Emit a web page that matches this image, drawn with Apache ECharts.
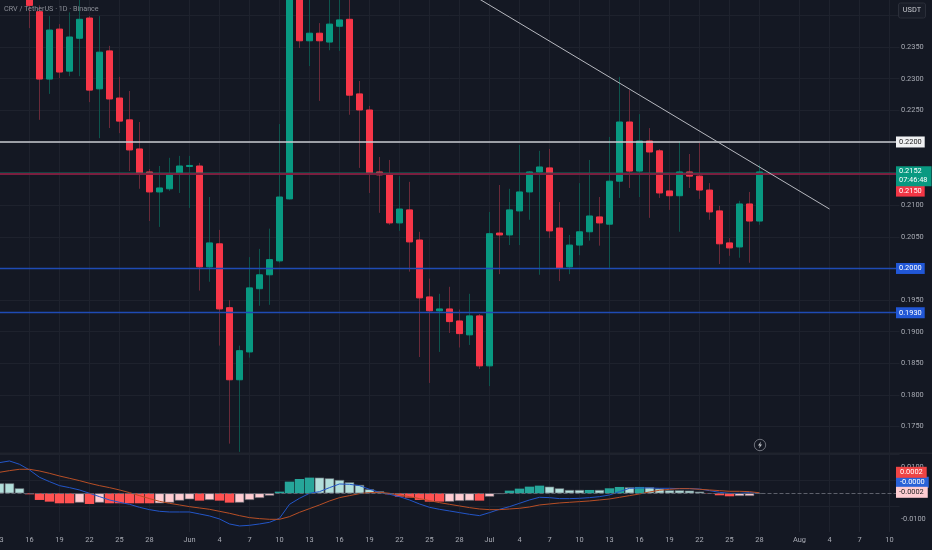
<!DOCTYPE html>
<html>
<head>
<meta charset="utf-8">
<style>html,body{margin:0;padding:0;background:#141823}#c{width:932px;height:550px}</style>
<script src="https://cdn.jsdelivr.net/npm/echarts@6/dist/echarts.min.js"></script>
</head>
<body>
<div id="c"></div>
<script>
const categories = [];
[['May',13,31],['Jun',1,30],['Jul',1,31],['Aug',1,11]].forEach(function(m){
  for (let d = m[1]; d <= m[2]; d++) categories.push(m[0] + ' ' + d);
});
const tickLabels = {
  'May 13':'13','May 16':'16','May 19':'19','May 22':'22','May 25':'25','May 28':'28',
  'Jun 1':'Jun','Jun 4':'4','Jun 7':'7','Jun 10':'10','Jun 13':'13','Jun 16':'16','Jun 19':'19','Jun 22':'22','Jun 25':'25','Jun 28':'28',
  'Jul 1':'Jul','Jul 4':'4','Jul 7':'7','Jul 10':'10','Jul 13':'13','Jul 16':'16','Jul 19':'19','Jul 22':'22','Jul 25':'25','Jul 28':'28',
  'Aug 1':'Aug','Aug 4':'4','Aug 7':'7','Aug 10':'10'
};
const firstCandle = 'May 16';
const opens = [0.2456,0.2406,0.22995,0.23785,0.2312,0.2364,0.2396,0.2284,0.2344,0.22695,0.2235,0.2189,0.21526,0.2121,0.2126,0.21494,0.21613,0.2162,0.20025,0.2039,0.1938,0.1824,0.1868,0.1968,0.199,0.2012,0.211,0.2448,0.236,0.2372,0.2358,0.2383,0.2394,0.2276,0.22506,0.21526,0.2148,0.2072,0.20926,0.2045,0.1955,0.1933,0.1936,0.1917,0.1895,0.1925,0.1846,0.2056,0.2053,0.2091,0.2121,0.21526,0.2159,0.2064,0.20025,0.2037,0.2058,0.20815,0.207,0.2138,0.22316,0.2154,0.22016,0.2186,0.21226,0.2115,0.21526,0.2146,0.2124,0.2091,0.20404,0.2034,0.2102,0.2075];
const closes = [0.2416,0.22995,0.2377,0.23106,0.2366,0.2394,0.2282,0.2342,0.2268,0.2233,0.21874,0.2151,0.2121,0.21273,0.21494,0.2162,0.21629,0.20025,0.20404,0.1936,0.1824,0.187,0.19693,0.199,0.2014,0.2113,0.2456,0.236,0.2372,0.236,0.23864,0.2393,0.2274,0.22506,0.2151,0.2148,0.2072,0.2094,0.2042,0.19535,0.1933,0.1936,0.1916,0.1897,0.1925,0.1846,0.2055,0.2053,0.20926,0.2121,0.21526,0.21605,0.20594,0.2001,0.2037,0.2058,0.2083,0.2072,0.2138,0.22316,0.2154,0.22016,0.21842,0.21194,0.2115,0.21526,0.2146,0.2124,0.20894,0.2039,0.20325,0.2102,0.2075,0.21526];
const lows = [0.238,0.2235,0.2276,0.2301,0.2304,0.2304,0.2263,0.2206,0.2222,0.2214,0.2154,0.2126,0.2075,0.20657,0.21226,0.21194,0.20957,0.1965,0.1979,0.1878,0.1723,0.171,0.1859,0.1941,0.19425,0.2009,0.2109,0.23485,0.232,0.2265,0.2345,0.2344,0.2243,0.2159,0.21194,0.2088,0.2069,0.20594,0.1995,0.186,0.1819,0.1868,0.1898,0.1875,0.1879,0.1841,0.1814,0.1991,0.2037,0.2037,0.2077,0.199,0.2048,0.198,0.1991,0.2021,0.2044,0.2036,0.2001,0.21115,0.21273,0.2113,0.208,0.21115,0.20926,0.2058,0.21273,0.211,0.2077,0.2007,0.202,0.2017,0.2009,0.2069];
const highs = [0.2472,0.2416,0.2399,0.23864,0.2405,0.24275,0.2399,0.2399,0.2352,0.2303,0.22806,0.22316,0.21573,0.2162,0.2175,0.2178,0.2178,0.2167,0.2113,0.2061,0.195,0.1878,0.2018,0.2031,0.2063,0.22284,0.2464,0.2464,0.244,0.2388,0.244,0.244,0.2432,0.22964,0.2257,0.21763,0.21716,0.2146,0.2137,0.2058,0.1984,0.196,0.1971,0.1935,0.196,0.1928,0.20894,0.2132,0.2126,0.21953,0.2154,0.2186,0.2189,0.2105,0.2053,0.2135,0.21716,0.2113,0.2208,0.2303,0.2282,0.2244,0.2222,0.2189,0.21494,0.22016,0.2181,0.21984,0.2135,0.2099,0.2048,0.2107,0.2121,0.2164];
const histValues = [0.00386,0.00386,0.00193,-0.00039,-0.00257,-0.00322,-0.00386,-0.00386,-0.0036,-0.00412,-0.0036,-0.00386,-0.00386,-0.00386,-0.00386,-0.00386,-0.00386,-0.0036,-0.00283,-0.00232,-0.00283,-0.00257,-0.00283,-0.0036,-0.0036,-0.00257,-0.0018,-0.0009,0.00064,0.0045,0.00553,0.00605,0.00605,0.00579,0.00515,0.00425,0.00322,0.00154,0.00077,-0.00039,-0.00129,-0.00167,-0.00257,-0.00322,-0.00322,-0.00322,-0.00296,-0.00283,-0.00283,-0.00129,-0.00026,0.00103,0.0018,0.00257,0.00296,0.00257,0.00193,0.00129,0.00129,0.00129,0.00129,0.00193,0.00245,0.00232,0.00245,0.00232,0.0018,0.00116,0.00116,0.00103,0.00064,-0.00013,-0.00077,-0.00116,-0.00103,-0.00103,-0.00013];
const histKinds = 'LLLRRRRRPRPRRRRRPPPPRPRRPPPPTTTTLLLLLLLRRRRRRPPPRPPTTTTLLLLTLTTLTLLLLLLRRRPPP'.split('');
const histColors = {T:'#26a69a',L:'#b2dfdb',P:'#ffcdd2',R:'#ff5252'};
const macdLine = [0.01184,0.01248,0.0112,0.00901,0.00618,0.0045,0.00296,0.00219,0.00129,0,-0.00129,-0.00257,-0.00347,-0.00425,-0.00541,-0.00631,-0.00695,-0.00721,-0.00721,-0.00721,-0.00798,-0.00875,-0.00991,-0.01184,-0.01261,-0.01236,-0.01184,-0.0112,-0.00965,-0.00425,-0.00193,0,0.00064,0.00219,0.0036,0.00347,0.00296,0.00154,0.00039,-0.00039,-0.00129,-0.00257,-0.00412,-0.00541,-0.00618,-0.00682,-0.00746,-0.00811,-0.00862,-0.00746,-0.00618,-0.00515,-0.00386,-0.00257,-0.00154,-0.00167,-0.00206,-0.00206,-0.00193,-0.00167,-0.00129,-0.00064,0.00064,0.00193,0.00206,0.00206,0.00193,0.00193,0.0018,0.0018,0.00167,0.00103,0.00039,0,0,0.00026,-0.00002];
const signalLine = [0.00811,0.00875,0.00927,0.00927,0.00862,0.00772,0.00669,0.00579,0.00489,0.00386,0.00296,0.00219,0.00129,0.00026,-0.0009,-0.00206,-0.00309,-0.00386,-0.0045,-0.00515,-0.00566,-0.00618,-0.00695,-0.00772,-0.00862,-0.00939,-0.00978,-0.01004,-0.01004,-0.00901,-0.00734,-0.00592,-0.0045,-0.00296,-0.00167,-0.0009,-0.00013,0.00026,0.00039,0,-0.00064,-0.00129,-0.00206,-0.00283,-0.0036,-0.00425,-0.00489,-0.00553,-0.00605,-0.00631,-0.00631,-0.00605,-0.00579,-0.00528,-0.0045,-0.00412,-0.00373,-0.00347,-0.00322,-0.00296,-0.00257,-0.00219,-0.00155,-0.0009,-0.00026,0.00052,0.00116,0.00154,0.0018,0.0018,0.00154,0.00129,0.00103,0.00077,0.00077,0.00064,0.0002];
const trendDates = ['Jun 30','Aug 4'];
const trendPrices = [0.24259,0.2094];
const levelWhite = 0.22, levelBlueA = 0.2, levelBlueB = 0.193, lastClose = 0.2152, lastOpenLevel = 0.215;
const macdTags = ['0.0002','-0.0000','-0.0002'];
const titleText = 'CRV / TetherUS · 1D · Binance';
const countdown = '07:46:48';

const BG='#141823', GRID='#1e222d', TXT='#a9acb5', FF='Roboto, sans-serif', FS=7.4;
const UP='#089981', DOWN='#f73648', UPW='#0d544c', DOWNW='#6a2a39';
const pad = categories.indexOf(firstCandle);
const blank = ['-','-','-','-'];
const wickData = categories.map(function(c,i){const k=i-pad;return k<0||k>=opens.length?blank:[opens[k],closes[k],lows[k],highs[k]];});
const bodyData = categories.map(function(c,i){const k=i-pad;return k<0||k>=opens.length?blank:[opens[k],closes[k],Math.min(opens[k],closes[k]),Math.max(opens[k],closes[k])];});
const isTick = function(i,v){return tickLabels[v]!==undefined;};
function tag(text,bg,fg,dx,dy,extra){
  return Object.assign({show:true,position:'end',distance:0,offset:[dx,dy],formatter:text,backgroundColor:bg,color:fg,fontSize:FS,fontFamily:FF,padding:[2,3,2,3],align:'left',verticalAlign:'middle'},extra||{});
}
function level(v,color,width,type,label){
  return {yAxis:v,lineStyle:{color:color,width:width,type:type},label:label||{show:false},symbol:'none'};
}
const chart = echarts.init(document.getElementById('c'),null,{renderer:'canvas'});
chart.setOption({
  animation:false,
  backgroundColor:BG,
  title:{text:titleText,left:4,top:6,padding:0,textStyle:{color:'#8b8e97',fontSize:7.2,fontWeight:'normal',fontFamily:FF}},
  grid:[
    {left:-0.5,top:0,width:900,height:458.2,containLabel:false,outerBoundsMode:'none'},
    {left:-0.5,top:453,width:900,height:79.15,containLabel:false,outerBoundsMode:'none'}
  ],
  xAxis:[
    {type:'category',data:categories,boundaryGap:false,gridIndex:0,axisLine:{show:false},axisTick:{show:false},axisLabel:{show:false},
     splitLine:{show:true,interval:isTick,lineStyle:{color:GRID,width:1}}},
    {type:'category',data:categories,boundaryGap:false,gridIndex:1,axisLine:{show:false},axisTick:{show:false},
     axisLabel:{show:true,interval:isTick,formatter:function(v){return tickLabels[v]||'';},color:TXT,fontSize:FS,fontFamily:FF,margin:5,showMinLabel:true},
     splitLine:{show:true,interval:isTick,lineStyle:{color:GRID,width:1}}}
  ],
  yAxis:[
    {type:'value',gridIndex:0,position:'right',min:0.17,max:0.24245,interval:0.005,axisLine:{show:false},axisTick:{show:false},
     splitLine:{show:true,showMinLine:false,showMaxLine:false,lineStyle:{color:GRID,width:1}},
     axisLabel:{color:TXT,fontSize:FS,fontFamily:FF,margin:1.5,showMinLabel:false,showMaxLabel:false,
       formatter:function(v){return v>=0.2399?'':v.toFixed(4);}}},
    {type:'value',gridIndex:1,position:'right',min:-0.015,max:0.01556,interval:0.005,axisLine:{show:false},axisTick:{show:false},
     splitLine:{show:true,showMinLine:false,showMaxLine:false,lineStyle:{color:['transparent',GRID],width:1}},
     axisLabel:{color:TXT,fontSize:FS,fontFamily:FF,margin:1.5,
       formatter:function(v){const r=Math.round(v*1000);return (r===10||r===-10)?v.toFixed(4):'';}}}
  ],
  graphic:[
    {type:'rect',z:5,shape:{x:0,y:452.5,width:932,height:1.4},style:{fill:'#1f232d'}},
    {type:'rect',z:50,shape:{x:898.5,y:3,width:27,height:15,r:2},style:{fill:'#191d28',stroke:'#2a2e39',lineWidth:1}},
    {type:'text',z:51,x:912,y:10.5,style:{text:'USDT',fill:'#c6c8ce',font:'7.4px Roboto, sans-serif',textAlign:'center',textVerticalAlign:'middle'}},
    {type:'circle',z:5,shape:{cx:760,cy:445,r:5.7},style:{fill:'#141823',stroke:'#6d707a',lineWidth:1}},
    {type:'polygon',z:6,shape:{points:[[761,441.6],[758,445.6],[759.8,445.6],[759,448.4],[762,444.4],[760.2,444.4]]},style:{fill:'#c2c4ca'}}
  ],
  series:[
    {name:'wicks',type:'candlestick',xAxisIndex:0,yAxisIndex:0,data:wickData,barWidth:1,z:3,
     itemStyle:{color:UPW,color0:DOWNW,borderColor:UPW,borderColor0:DOWNW,borderWidth:1}},
    {name:'bodies',type:'candlestick',xAxisIndex:0,yAxisIndex:0,data:bodyData,barWidth:6,z:4,
     itemStyle:{color:UP,color0:DOWN,borderColor:UP,borderColor0:DOWN,borderWidth:1}},
    {name:'trend',type:'line',xAxisIndex:0,yAxisIndex:0,data:[[trendDates[0],trendPrices[0]],[trendDates[1],trendPrices[1]]],symbol:'none',z:5,
     lineStyle:{color:'#b6b8bf',width:1},silent:true},
    {name:'levels',type:'line',xAxisIndex:0,yAxisIndex:0,data:[],z:6,
     markLine:{silent:true,symbol:'none',animation:false,precision:5,data:[
       level(levelBlueA,'#1f4bb5',1.3,'solid',tag(levelBlueA.toFixed(4),'#2157d6','#fff',-3.5,0)),
       level(levelBlueB,'#1f4bb5',1.3,'solid',tag(levelBlueB.toFixed(4),'#2157d6','#fff',-3.5,0)),
       level(levelWhite,'#c9cbd0',1.6,'solid',tag(levelWhite.toFixed(4),'#f0f1f3','#222',-3.5,0)),
       level(lastClose,'#0d6f60',1,'dotted',{show:false}),
       level(lastOpenLevel,'#7a1f3f',2,'solid',tag(lastOpenLevel.toFixed(4),'#f23645','#fff',-3.5,17.5)),
       level(lastClose,'transparent',0,'solid',tag(lastClose.toFixed(4)+'\n'+countdown,UP,'#fff',-3.5,3.8,{lineHeight:9,padding:[1,4,1,3]}))
     ]}},
    {name:'hist',type:'bar',xAxisIndex:1,yAxisIndex:1,barWidth:9.4,z:3,
     data:histValues.map(function(v,i){const k=histKinds[i];const pale=k==='L'||k==='P';return {value:v,itemStyle:{color:histColors[k],borderColor:pale?'#5f646c':'transparent',borderWidth:pale?0.6:0}};}),
     markLine:{silent:true,symbol:'none',animation:false,data:[{yAxis:0,lineStyle:{color:'#5d606b',width:1,type:'dashed'},label:{show:false}}]}},
    {name:'macd',type:'line',xAxisIndex:1,yAxisIndex:1,data:macdLine,symbol:'none',z:4,lineStyle:{color:'#2356c8',width:1},
     markLine:{silent:true,symbol:'none',animation:false,data:[
       {yAxis:0,lineStyle:{width:0,color:'transparent'},label:tag(macdTags[1],'#2962d8','#fff',-3.5,-11,{padding:[2,4,2,4]})}
     ]}},
    {name:'signal',type:'line',xAxisIndex:1,yAxisIndex:1,data:signalLine,symbol:'none',z:4,lineStyle:{color:'#b84f26',width:1},
     markLine:{silent:true,symbol:'none',animation:false,data:[
       {yAxis:0,lineStyle:{width:0,color:'transparent'},label:tag(macdTags[0],'#ef4444','#fff',-3.5,-21,{padding:[2,4,2,4]})},
       {yAxis:0,lineStyle:{width:0,color:'transparent'},label:tag(macdTags[2],'#ffcdd2','#222',-3.5,-1,{padding:[2,4,2,3]})}
     ]}}
  ]
});
</script>
</body>
</html>
